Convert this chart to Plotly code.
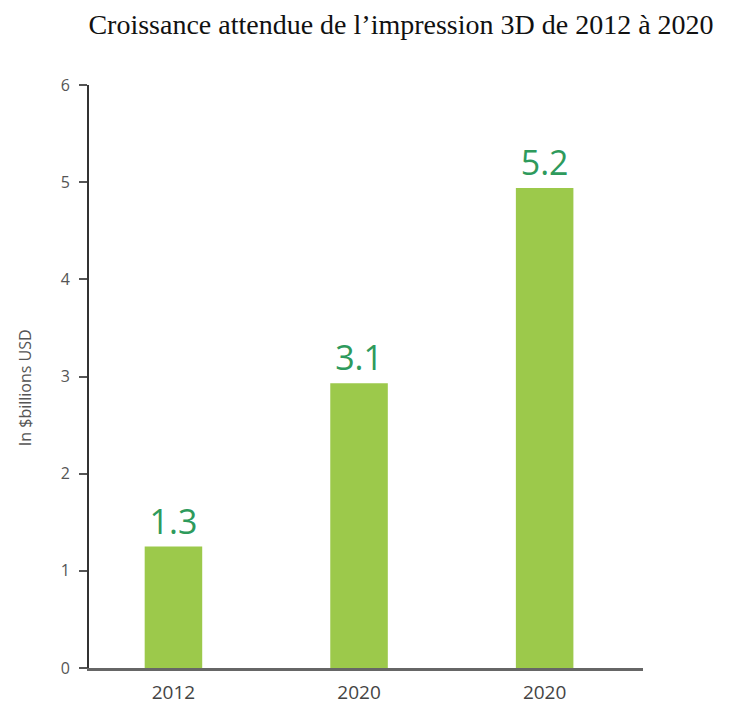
import plotly.graph_objects as go

categories = ["2012", "2020", "2020"]
bar_heights = [1.25, 2.93, 4.94]
bar_labels = ["1.3", "3.1", "5.2"]
y_ticks = [0, 1, 2, 3, 4, 5, 6]

positions = list(range(len(categories)))

W, H = 726, 702

fig = go.Figure()
fig.add_trace(go.Bar(
    x=positions,
    y=bar_heights,
    width=0.31,
    marker=dict(color="#9cc94b", line=dict(width=0)),
    text=bar_labels,
    textposition="outside",
    cliponaxis=False,
    textfont=dict(family="Open Sans", size=34, color="#2e9a5c"),
    hoverinfo="skip",
))

fig.add_annotation(
    text="In $billions USD",
    textangle=-90,
    xref="paper", yref="paper",
    x=0, y=0.48,
    xanchor="center", yanchor="middle",
    xshift=-64,
    showarrow=False,
    font=dict(family="Open Sans", size=16, color="#555"),
)

fig.update_layout(
    width=W,
    height=H,
    paper_bgcolor="white",
    plot_bgcolor="white",
    showlegend=False,
    margin=dict(l=81, r=91, t=77, b=42, autoexpand=False),
    title=dict(
        text="Croissance attendue de l’impression 3D de 2012 à 2020",
        font=dict(family="Liberation Serif", size=28, color="#111"),
        x=393 / W, xanchor="center", xref="container",
        y=1 - 16 / H, yanchor="middle", yref="container",
    ),
    xaxis=dict(
        range=[-0.455, 2.53],
        tickmode="array",
        tickvals=positions,
        ticktext=categories,
        showgrid=False,
        zeroline=False,
        showline=True,
        linecolor="#666",
        linewidth=3,
        ticks="",
        ticklabelstandoff=5,
        tickfont=dict(family="Open Sans", size=19, color="#444"),
    ),
    yaxis=dict(
        range=[0, 6],
        tickmode="array",
        tickvals=y_ticks,
        showgrid=False,
        zeroline=False,
        showline=True,
        linecolor="#333",
        linewidth=2,
        ticks="outside",
        ticklen=8,
        tickwidth=2,
        tickcolor="#555",
        ticklabelstandoff=6,
        tickfont=dict(family="Open Sans", size=16, color="#555"),
    ),
)

fig.write_html("out.html")
